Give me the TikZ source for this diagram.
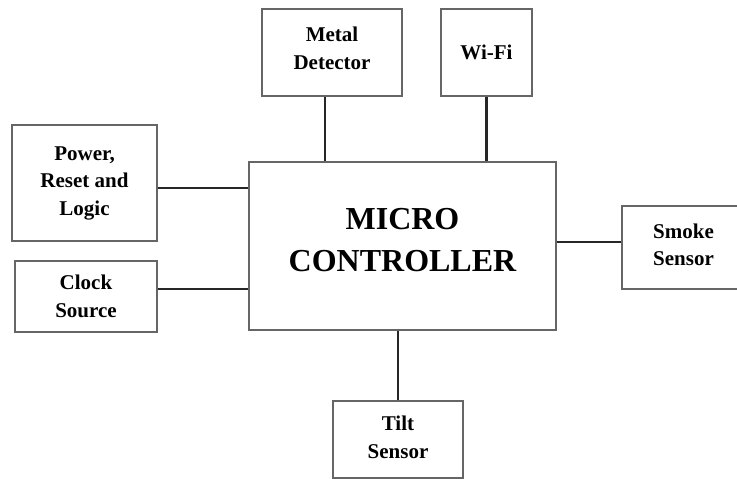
\documentclass[tikz,border=0pt]{standalone}
\usepackage{fontspec}
\setmainfont{Liberation Serif}
\begin{document}
\begin{tikzpicture}[x=1pt,y=-1pt,
  blk/.style={draw=black!60,line width=1.6pt,align=center,inner sep=0pt,
    font=\bfseries\fontsize{21}{27.5}\selectfont},
  wire/.style={line width=2.4pt,black!85}]
  \useasboundingbox (0,0) rectangle (737,479);
  % blocks
  \node[blk,minimum width=307,minimum height=168,text depth=12pt,
    font=\bfseries\fontsize{32}{42}\selectfont] (mc) at (402.5,246) {MICRO\\CONTROLLER};
  \node[blk,minimum width=140,minimum height=87,text depth=9pt] (metal) at (332,52.5) {Metal\\Detector};
  \node[blk,minimum width=91,minimum height=87] (wifi) at (486.5,52.5) {Wi-Fi};
  \node[blk,minimum width=145,minimum height=116] (power) at (84.5,183) {Power,\\Reset and\\Logic};
  \node[blk,minimum width=142,minimum height=71] (clock) at (86,296.5) {Clock\\Source};
  \node[blk,minimum width=123,minimum height=83,text depth=6pt] (smoke) at (683.5,247.5) {Smoke\\Sensor};
  \node[blk,minimum width=130,minimum height=77,text depth=5pt] (tilt) at (398,439.5) {Tilt\\Sensor};
  % links
  \coordinate (mdown) at ([xshift=-7pt]metal.south);
  \coordinate (pout) at ([yshift=-5pt]power.east);
  \coordinate (cout) at ([yshift=7.5pt]clock.east);
  \coordinate (sin) at ([yshift=5.5pt]smoke.west);
  \draw[wire] (mdown) -- (mdown |- mc.north);
  \draw[wire] (wifi.south) -- (wifi.south |- mc.north);
  \draw[wire] (pout) -- (pout -| mc.west);
  \draw[wire] (cout) -- (cout -| mc.west);
  \draw[wire] (sin) -- (sin -| mc.east);
  \draw[wire] (tilt.north) -- (tilt.north |- mc.south);
\end{tikzpicture}
\end{document}
